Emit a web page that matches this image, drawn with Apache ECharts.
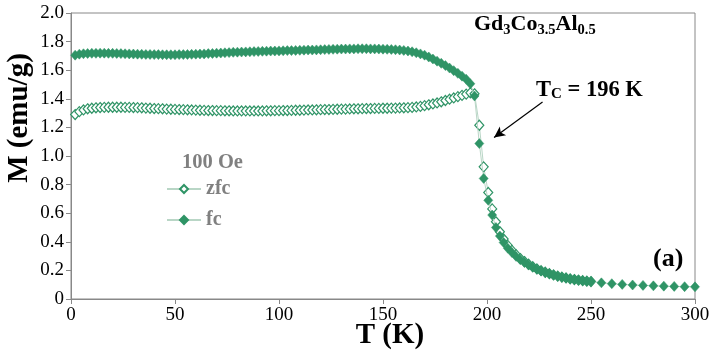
<!DOCTYPE html>
<html>
<head>
    <meta charset="utf-8">
    <title>Gd3Co3.5Al0.5 M(T)</title>
    <script src="https://cdn.jsdelivr.net/npm/echarts@6/dist/echarts.min.js"></script>
    <style>
        html, body { margin: 0; padding: 0; background: #fff; }
    </style>
</head>
<body>
    <div id="main" style="width: 716px;height:350px;"></div>
</body>
</html>
<script>
var SERIF = 'Liberation Serif';
var GREEN = '#2f9466';
var GRAY = '#888888';

// temperature (K)
var temps = [
    2,4,6,8,10,12,14,16,18,20,22,24,26,28,30,32,34,36,38,40,
    42,44,46,48,50,52,54,56,58,60,62,64,66,68,70,72,74,76,78,80,
    82,84,86,88,90,92,94,96,98,100,102,104,106,108,110,112,114,116,118,120,
    122,124,126,128,130,132,134,136,138,140,142,144,146,148,150,152,154,156,158,160,
    162,164,166,168,170,172,174,176,178,180,182,184,186,188,190,192,194,
    196.3,198.4,200.6,202.5,204.3,206.2,
    208,210,212,214,216,218,220,222,224,226,228,230,232,234,236,238,240,242,244,246,248,250,
    255,260,265,270,275,280,285,290,295,300
];

// zero field cooled, emu/g (ends at 250 K)
var zfc = [
    1.290,1.310,1.322,1.330,1.334,1.337,1.339,1.340,1.341,1.341,
    1.341,1.341,1.340,1.340,1.339,1.338,1.337,1.335,1.334,1.332,
    1.331,1.330,1.328,1.327,1.326,1.325,1.324,1.323,1.322,1.321,
    1.320,1.319,1.318,1.318,1.317,1.317,1.316,1.316,1.315,1.315,
    1.315,1.315,1.315,1.315,1.315,1.315,1.316,1.316,1.317,1.317,
    1.318,1.318,1.319,1.320,1.320,1.321,1.322,1.322,1.323,1.324,
    1.325,1.325,1.326,1.327,1.328,1.328,1.329,1.330,1.330,1.331,
    1.332,1.332,1.333,1.333,1.334,1.334,1.335,1.335,1.336,1.337,
    1.338,1.340,1.343,1.347,1.352,1.358,1.364,1.371,1.379,1.388,
    1.397,1.406,1.415,1.424,1.433,1.442,1.435,
    1.215,0.924,0.745,0.630,0.540,0.470,
    0.420,0.375,0.340,0.310,0.283,0.262,0.243,0.226,0.211,0.198,0.187,
    0.177,0.168,0.160,0.153,0.147,0.141,0.136,0.132,0.128,0.125,0.122
];

// field cooled, emu/g
var fc = [
    1.705,1.712,1.715,1.717,1.718,1.718,1.719,1.719,1.718,1.718,
    1.717,1.716,1.715,1.714,1.713,1.712,1.711,1.710,1.710,1.709,
    1.709,1.708,1.708,1.708,1.708,1.709,1.709,1.710,1.711,1.712,
    1.713,1.714,1.716,1.717,1.719,1.720,1.722,1.723,1.725,1.726,
    1.727,1.728,1.729,1.730,1.731,1.732,1.733,1.734,1.734,1.735,
    1.736,1.737,1.737,1.738,1.739,1.740,1.741,1.741,1.742,1.743,
    1.744,1.745,1.746,1.747,1.748,1.748,1.749,1.749,1.750,1.750,
    1.750,1.749,1.749,1.748,1.747,1.746,1.745,1.743,1.741,1.738,
    1.734,1.729,1.722,1.714,1.705,1.692,1.678,1.663,1.648,1.632,
    1.615,1.597,1.578,1.558,1.537,1.505,1.420,
    1.087,0.843,0.690,0.587,0.500,0.440,
    0.395,0.355,0.325,0.298,0.275,0.255,0.237,0.222,0.208,0.196,0.185,
    0.176,0.167,0.159,0.152,0.146,0.141,0.136,0.132,0.128,0.125,0.122,
    0.113,0.107,0.102,0.098,0.095,0.092,0.090,0.088,0.086,0.085
];

// Tc arrow, [T, M]
var arrowFrom = [226.7, 1.378];
var arrowTo = [203.4, 1.130];

function pairs(vals) {
    var res = [];
    for (var i = 0; i < vals.length; i++) {
        res.push([temps[i], vals[i]]);
    }
    return res;
}

var myChart = echarts.init(document.getElementById('main'));

var option = {
    animation: false,
    backgroundColor: '#fff',
    textStyle: { fontFamily: SERIF },
    grid: {
        left: 71, right: 21, top: 13, bottom: 51,
        show: true, borderColor: GRAY, borderWidth: 1
    },
    legend: {
        data: ['zfc', 'fc'],
        orient: 'vertical',
        left: 161, top: 174,
        itemWidth: 34, itemHeight: 10, itemGap: 11,
        textStyle: { fontFamily: SERIF, fontSize: 20, fontWeight: 'bold', color: '#808080', lineHeight: 18 }
    },
    xAxis: {
        type: 'value', min: 0, max: 300, interval: 50,
        axisLine: { lineStyle: { color: GRAY } },
        axisTick: { show: true, length: 5, lineStyle: { color: GRAY } },
        axisLabel: { color: '#000', fontFamily: SERIF, fontSize: 19, margin: 7 },
        splitLine: { show: false }
    },
    yAxis: {
        type: 'value', min: 0, max: 2, interval: 0.2,
        axisLine: { show: true, lineStyle: { color: GRAY } },
        axisTick: { show: true, length: 5, lineStyle: { color: GRAY } },
        axisLabel: {
            color: '#000', fontFamily: SERIF, fontSize: 19, margin: 7,
            formatter: function (v) { return v === 0 ? '0' : v.toFixed(1); }
        },
        splitLine: { show: false }
    },
    graphic: [
        {
            type: 'text', x: 20, y: 118, rotation: Math.PI / 2,
            style: { text: 'M (emu/g)', font: 'bold 29px ' + SERIF, fill: '#000', textAlign: 'center', textVerticalAlign: 'middle' }
        },
        {
            type: 'text', x: 390, y: 336,
            style: { text: 'T (K)', font: 'bold 29px ' + SERIF, fill: '#000', textAlign: 'center', textVerticalAlign: 'middle' }
        },
        {
            type: 'text', x: 474, y: 13,
            style: {
                text: '{m|Gd}{s|3}{m|Co}{s|3.5}{m|Al}{s|0.5}',
                textVerticalAlign: 'top',
                rich: {
                    m: { fontFamily: SERIF, fontSize: 22, fontWeight: 'bold', fill: '#000', padding: [0, 0, 3, 0], verticalAlign: 'bottom' },
                    s: { fontFamily: SERIF, fontSize: 14.5, fontWeight: 'bold', fill: '#000', verticalAlign: 'bottom' }
                }
            }
        },
        {
            type: 'text', x: 536, y: 79,
            style: {
                text: '{m|T}{s|C}{m| = 196 K}',
                textVerticalAlign: 'top',
                rich: {
                    m: { fontFamily: SERIF, fontSize: 22.5, fontWeight: 'bold', fill: '#000', verticalAlign: 'bottom' },
                    s: { fontFamily: SERIF, fontSize: 15, fontWeight: 'bold', fill: '#000', verticalAlign: 'bottom' }
                }
            }
        },
        {
            type: 'text', x: 653, y: 246,
            style: { text: '(a)', font: 'bold 26px ' + SERIF, fill: '#000', textAlign: 'left', textVerticalAlign: 'top' }
        },
        {
            type: 'text', x: 182, y: 152,
            style: { text: '100 Oe', font: 'bold 20.5px ' + SERIF, fill: '#808080', textAlign: 'left', textVerticalAlign: 'top' }
        }
    ],
    series: [
        {
            name: 'zfc',
            type: 'line',
            data: pairs(zfc),
            showAllSymbol: true,
            symbol: 'diamond',
            symbolSize: [9, 10],
            itemStyle: { color: '#ffffff', borderColor: GREEN, borderWidth: 1.2 },
            lineStyle: { color: '#b9d6c6', width: 1 },
            z: 2
        },
        {
            name: 'fc',
            type: 'line',
            data: pairs(fc),
            showAllSymbol: true,
            symbol: 'diamond',
            symbolSize: [9, 10],
            itemStyle: { color: GREEN, borderColor: GREEN, borderWidth: 0.5 },
            lineStyle: { color: '#b9d6c6', width: 1 },
            z: 3,
            markLine: {
                silent: true,
                animation: false,
                symbol: ['none', 'arrow'],
                symbolSize: [8, 11],
                label: { show: false },
                lineStyle: { color: '#000', width: 1.2, type: 'solid' },
                data: [[{ coord: arrowFrom }, { coord: arrowTo }]]
            }
        }
    ]
};

myChart.setOption(option);
</script>
